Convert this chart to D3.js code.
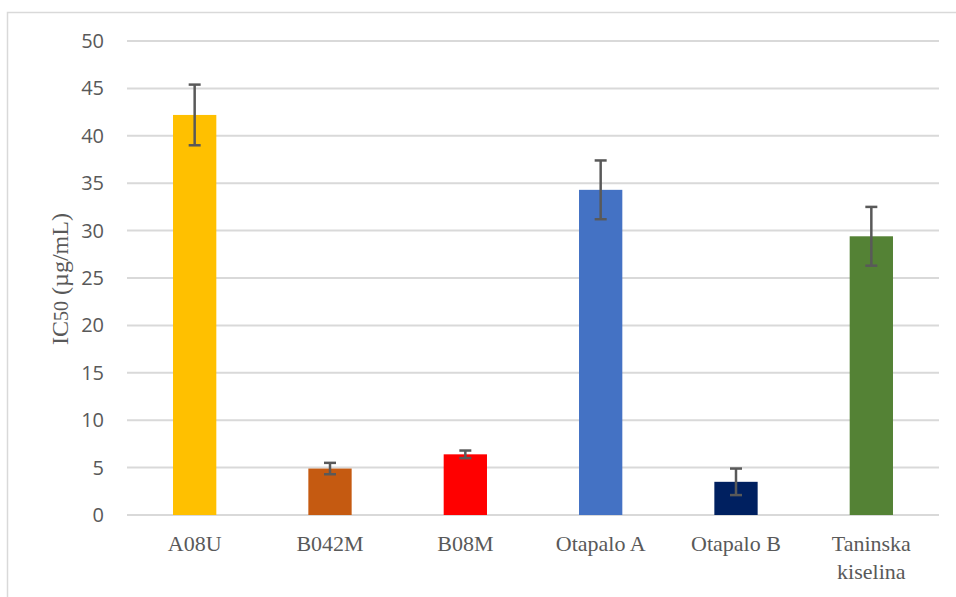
<!DOCTYPE html>
<html>
<head>
<meta charset="utf-8">
<script src="https://cdn.jsdelivr.net/npm/d3@7"></script>
<style>
  body { margin: 0; background: #fff; }
</style>
</head>
<body>
<svg id="chart"></svg>
<script>
const categories = ["A08U", "B042M", "B08M", "Otapalo A", "Otapalo B", "Taninska kiselina"];
const values = [42.2, 4.9, 6.4, 34.3, 3.5, 29.4];
const errors = [3.2, 0.6, 0.4, 3.1, 1.4, 3.1];
const colors = ["#ffc000", "#c55a11", "#ff0000", "#4472c4", "#002060", "#548235"];
const yTicks = [0, 5, 10, 15, 20, 25, 30, 35, 40, 45, 50];

const width = 956, height = 597;
const svg = d3.select("#chart").attr("width", width).attr("height", height);

// outer chart frame (runs off the right and bottom edges)
svg.append("rect")
    .attr("x", 7.5).attr("y", 12.5)
    .attr("width", 1000).attr("height", 700)
    .attr("fill", "none")
    .attr("stroke", "#d9d9d9")
    .attr("stroke-width", 1.5);

const x = d3.scaleBand()
    .domain(categories)
    .range([127, 939])
    .paddingInner(0.68)
    .paddingOuter(0.34);
const y = d3.scaleLinear()
    .domain([0, 50])
    .range([515, 41]);

// gridlines
svg.append("g")
    .selectAll("line")
    .data(yTicks)
    .enter()
    .append("line")
        .attr("x1", 127)
        .attr("x2", 939)
        .attr("y1", (d) => y(d))
        .attr("y2", (d) => y(d))
        .attr("stroke", "#d9d9d9")
        .attr("stroke-width", 2);

// y axis labels
const yAxis = svg.append("g")
    .attr("transform", "translate(104,0)")
    .call(d3.axisLeft(y).tickValues(yTicks).tickSize(0).tickPadding(0));
yAxis.select(".domain").remove();
yAxis.selectAll("text")
    .style("font-family", "'Open Sans', 'Liberation Sans', sans-serif")
    .style("font-size", "20px")
    .attr("fill", "#595959");

// bars
svg.append("g")
    .selectAll("rect")
    .data(values)
    .enter()
    .append("rect")
        .attr("x", (d, i) => x(categories[i]))
        .attr("y", (d) => y(d))
        .attr("width", x.bandwidth())
        .attr("height", (d) => y(0) - y(d))
        .attr("fill", (d, i) => colors[i]);

// error bars
const err = svg.append("g")
    .attr("stroke", "#595959")
    .attr("stroke-width", 2.5);
values.forEach((v, i) => {
    const cx = x(categories[i]) + x.bandwidth() / 2;
    err.append("line")
        .attr("x1", cx).attr("x2", cx)
        .attr("y1", y(v + errors[i])).attr("y2", y(v - errors[i]));
    [v + errors[i], v - errors[i]].forEach((e) => {
        err.append("line")
            .attr("x1", cx - 6).attr("x2", cx + 6)
            .attr("y1", y(e)).attr("y2", y(e));
    });
});

// category labels
svg.append("g")
    .selectAll("text")
    .data(categories)
    .enter()
    .append("text")
        .attr("x", (d) => x(d) + x.bandwidth() / 2)
        .attr("y", 551)
        .attr("text-anchor", "middle")
        .style("font-family", "'Liberation Serif', 'Times New Roman', serif")
        .style("font-size", "22px")
        .attr("fill", "#595959")
        .each(function (d) {
            const words = d === "Taninska kiselina" ? ["Taninska", "kiselina"] : [d];
            const t = d3.select(this);
            words.forEach((w, k) => {
                t.append("tspan")
                    .attr("x", x(d) + x.bandwidth() / 2)
                    .attr("dy", k === 0 ? 0 : 28)
                    .text(w);
            });
        });

// y axis title
const title = svg.append("text")
    .attr("transform", "translate(68,279) rotate(-90)")
    .attr("text-anchor", "middle")
    .style("font-family", "'Liberation Serif', 'Times New Roman', serif")
    .style("font-size", "24px")
    .attr("fill", "#595959");
title.append("tspan").text("IC");
title.append("tspan").style("font-size", "20px").text("50");
title.append("tspan").text(" (µg/mL)");
</script>
</body>
</html>
